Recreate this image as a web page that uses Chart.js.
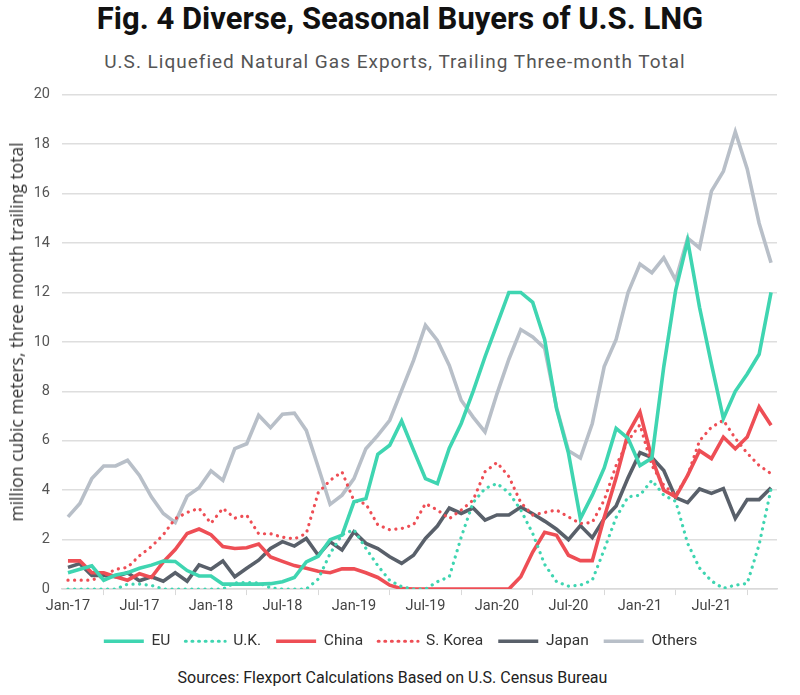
<!DOCTYPE html>
<html>
<head>
<meta charset="utf-8">
<script src="https://cdn.jsdelivr.net/npm/chart.js@4.4.0/dist/chart.umd.min.js"></script>
<style>
  html, body { margin: 0; padding: 0; background: #fff; }
  body { width: 800px; height: 695px; position: relative; overflow: hidden; font-family: Roboto, "Noto Sans", sans-serif; }
  #title { position: absolute; top: 0px; left: 0; width: 800px; text-align: center; font-weight: 700; font-size: 31px; color: #111; }
  #subtitle { position: absolute; top: 50px; left: 0; width: 790px; text-align: center; font-size: 19px; color: #555; letter-spacing: 1px; }
  #wrap { position: absolute; top: 74px; left: 0; width: 800px; height: 585px; }
  #ytitle { position: absolute; left: 16px; top: 332px; transform: translate(-50%, -50%) rotate(-90deg); white-space: nowrap; font-family: "Open Sans", sans-serif; font-size: 17.5px; color: #333; }
  #source { position: absolute; top: 668px; left: 0; width: 785px; text-align: center; font-size: 16px; color: #222; }
</style>
</head>
<body>
<div id="title">Fig. 4 Diverse, Seasonal Buyers of U.S. LNG</div>
<div id="subtitle">U.S. Liquefied Natural Gas Exports, Trailing Three-month Total</div>
<div id="wrap"><canvas id="lngChart"></canvas></div>
<div id="ytitle">million cubic meters, three month trailing total</div>
<div id="source">Sources: Flexport Calculations Based on U.S. Census Bureau</div>
<script>
const months = [
  "Jan-17","Feb-17","Mar-17","Apr-17","May-17","Jun-17","Jul-17","Aug-17","Sep-17","Oct-17","Nov-17","Dec-17",
  "Jan-18","Feb-18","Mar-18","Apr-18","May-18","Jun-18","Jul-18","Aug-18","Sep-18","Oct-18","Nov-18","Dec-18",
  "Jan-19","Feb-19","Mar-19","Apr-19","May-19","Jun-19","Jul-19","Aug-19","Sep-19","Oct-19","Nov-19","Dec-19",
  "Jan-20","Feb-20","Mar-20","Apr-20","May-20","Jun-20","Jul-20","Aug-20","Sep-20","Oct-20","Nov-20","Dec-20",
  "Jan-21","Feb-21","Mar-21","Apr-21","May-21","Jun-21","Jul-21","Aug-21","Sep-21","Oct-21","Nov-21","Dec-21"
];

const eu = [0.66,0.8,0.94,0.36,0.57,0.66,0.84,0.97,1.13,1.12,0.75,0.53,
  0.53,0.2,0.2,0.2,0.2,0.22,0.3,0.47,1.1,1.33,2.0,2.18,
  3.53,3.66,5.45,5.82,6.8,5.62,4.47,4.27,5.7,6.7,8.0,9.4,
  10.7,12.0,12.0,11.6,10.1,7.3,5.5,2.85,3.8,4.9,6.5,6.1,
  5.0,5.3,9.0,12.1,14.1,11.4,9.1,6.9,8.0,8.7,9.5,12.0];

const uk = [0,0,0,0,0,0.2,0.2,0.15,0,0,0,0,
  0,0,0.25,0.27,0.25,0.05,0,0,0,0.4,1.44,2.2,
  2.4,1.65,0.95,0.35,0.1,0,0,0.3,0.5,2.1,3.5,4.07,
  4.27,3.9,3.2,2.25,1.0,0.3,0.12,0.16,0.36,1.6,2.9,3.73,
  3.8,4.4,3.8,3.55,1.85,0.85,0.33,0.03,0.16,0.23,1.8,4.05];

const china = [1.14,1.14,0.66,0.66,0.5,0.36,0.62,0.47,1.1,1.6,2.25,2.43,
  2.2,1.72,1.64,1.67,1.82,1.3,1.12,0.95,0.84,0.72,0.66,0.82,
  0.82,0.66,0.47,0.16,0.02,0,0,0,0,0,0,0,
  0,0,0.5,1.5,2.3,2.18,1.37,1.15,1.15,2.9,4.5,6.3,
  7.16,5.3,4.0,3.73,4.6,5.6,5.28,6.15,5.68,6.15,7.37,6.63];

const korea = [0.36,0.36,0.36,0.55,0.8,0.88,1.35,1.72,2.2,2.85,3.1,3.27,
  2.66,3.27,2.87,2.99,2.24,2.24,2.1,2.03,2.25,3.9,4.4,4.74,
  3.57,3.45,2.6,2.4,2.45,2.6,3.46,3.2,2.85,3.2,3.6,4.75,
  5.12,4.55,3.5,3.0,3.1,3.2,2.92,2.65,2.7,3.6,5.0,6.0,
  6.65,5.0,4.2,3.8,4.6,6.0,6.55,6.83,6.1,5.5,5.0,4.67];

const japan = [0.88,1.03,0.55,0.55,0.5,0.66,0.34,0.5,0.32,0.66,0.32,0.98,
  0.8,1.14,0.5,0.84,1.17,1.64,1.92,1.74,2.05,1.37,1.91,1.58,
  2.32,1.85,1.64,1.31,1.04,1.37,2.05,2.55,3.28,3.06,3.28,2.79,
  3.0,3.0,3.32,3.05,2.75,2.42,2.0,2.57,2.08,2.85,3.36,4.5,
  5.52,5.32,4.8,3.7,3.5,4.05,3.87,4.07,2.86,3.62,3.62,4.1];

const others = [2.92,3.46,4.47,4.98,4.98,5.21,4.6,3.73,3.06,2.7,3.76,4.1,
  4.78,4.4,5.68,5.88,7.03,6.53,7.07,7.12,6.42,4.94,3.43,3.8,
  4.47,5.68,6.22,6.83,8.04,9.25,10.67,10.06,9.05,7.64,6.96,6.36,
  7.9,9.3,10.5,10.2,9.75,7.35,5.6,5.3,6.7,9.0,10.1,12.0,
  13.15,12.8,13.4,12.5,14.2,13.8,16.1,16.9,18.5,17.0,14.8,13.2];

const yTicks = [0,2,4,6,8,10,12,14,16,18,20];

const TEAL = "#3fd5b1";
const RED = "#ee4e55";
const SLATE = "#59606a";
const SILVER = "#b8bfc8";

function line(label, data, color, dotted) {
  return {
    label: label,
    data: data,
    borderColor: color,
    backgroundColor: dotted ? "rgba(0,0,0,0)" : color,
    borderWidth: dotted ? 3.2 : 3.6,
    borderDash: dotted ? [0.1, 6.5] : [],
    borderCapStyle: dotted ? "round" : "butt",
    borderJoinStyle: "miter",
    pointRadius: 0,
    tension: 0,
    fill: false
  };
}

new Chart(document.getElementById("lngChart"), {
  type: "line",
  data: {
    labels: months,
    datasets: [
      line("EU", eu, TEAL, false),
      line("U.K.", uk, TEAL, true),
      line("China", china, RED, false),
      line("S. Korea", korea, RED, true),
      line("Japan", japan, SLATE, false),
      line("Others", others, SILVER, false)
    ]
  },
  options: {
    responsive: true,
    maintainAspectRatio: false,
    animation: false,
    // wide left padding keeps the legend centred on the page
    layout: { padding: { top: 0, right: 23, bottom: 0, left: 24 } },
    plugins: {
      legend: {
        position: "bottom",
        labels: {
          boxWidth: 40,
          boxHeight: 0,
          padding: 15,
          color: "#333",
          font: { family: "Roboto", size: 15.5 }
        }
      },
      tooltip: { enabled: false }
    },
    scales: {
      x: {
        type: "category",
        offset: true,
        grid: { offset: true, drawOnChartArea: false, drawTicks: true, tickLength: 6, color: "#d9d9d9" },
        border: { display: true, color: "#d9d9d9", width: 1.5 },
        ticks: {
          autoSkip: false,
          maxRotation: 0,
          padding: 3,
          color: "#444",
          font: { family: "Roboto", size: 14.5 },
          callback: function(v, i) { return i % 6 === 0 ? months[i] : null; }
        }
      },
      y: {
        min: 0,
        max: 20,
        afterBuildTicks: function(s) { s.ticks = yTicks.map(v => ({ value: v })); },
        afterFit: function(s) { s.width = 38; },
        grid: { drawTicks: false, color: "#dedede", lineWidth: 1.5 },
        border: { display: false },
        ticks: { padding: 12, color: "#555", font: { family: "Roboto", size: 14.5 } }
      }
    }
  }
});
</script>
</body>
</html>
